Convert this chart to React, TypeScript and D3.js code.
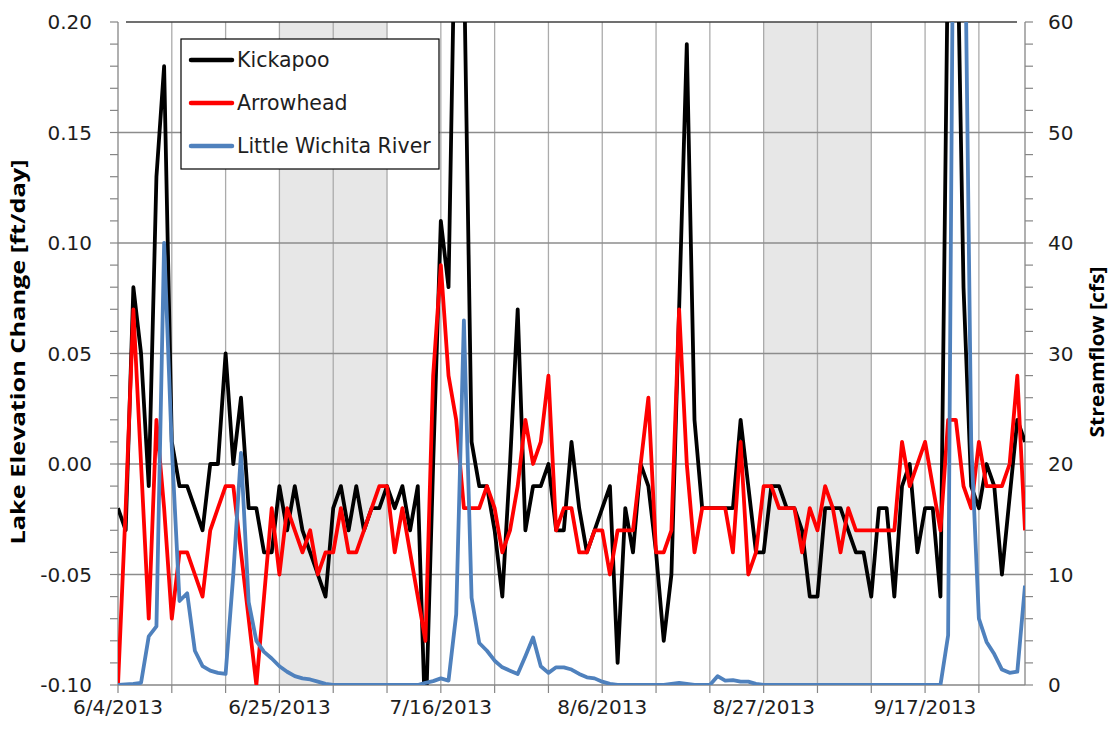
import React from 'react';
import * as d3 from 'd3';

const startDate = new Date(2013, 5, 4);
const endDate = new Date(2013, 8, 30);

const kickapoo = [
  -0.02, -0.03, 0.08, 0.05, -0.01, 0.13, 0.18, 0.01, -0.01, -0.01,
  -0.02, -0.03, 0.00, 0.00, 0.05, 0.00, 0.03, -0.02, -0.02, -0.04,
  -0.04, -0.01, -0.03, -0.01, -0.03, -0.04, -0.05, -0.06, -0.02, -0.01,
  -0.03, -0.01, -0.03, -0.02, -0.02, -0.01, -0.02, -0.01, -0.03, -0.01,
  -0.12, 0.00, 0.11, 0.08, 0.28, 0.23, 0.01, -0.01, -0.01, -0.03,
  -0.06, 0.00, 0.07, -0.03, -0.01, -0.01, 0.00, -0.03, -0.03, 0.01,
  -0.02, -0.04, -0.03, -0.02, -0.01, -0.09, -0.02, -0.04, 0.00, -0.01,
  -0.04, -0.08, -0.05, 0.07, 0.19, 0.02, -0.02, -0.02, -0.02, -0.02,
  -0.02, 0.02, -0.01, -0.04, -0.04, -0.01, -0.01, -0.02, -0.02, -0.03,
  -0.06, -0.06, -0.02, -0.02, -0.02, -0.03, -0.04, -0.04, -0.06, -0.02,
  -0.02, -0.06, -0.01, 0.00, -0.04, -0.02, -0.02, -0.06, 0.24, 0.28,
  0.08, -0.01, -0.02, 0.00, -0.01, -0.05, -0.015, 0.02, 0.01,
];

const arrowhead = [
  -0.10, -0.02, 0.07, 0.00, -0.07, 0.02, -0.02, -0.07, -0.04, -0.04,
  -0.05, -0.06, -0.03, -0.02, -0.01, -0.01, -0.04, -0.07, -0.10, -0.06,
  -0.02, -0.05, -0.02, -0.03, -0.04, -0.03, -0.05, -0.04, -0.04, -0.02,
  -0.04, -0.04, -0.03, -0.02, -0.01, -0.01, -0.04, -0.02, -0.04, -0.06,
  -0.08, 0.04, 0.09, 0.04, 0.02, -0.02, -0.02, -0.02, -0.01, -0.02,
  -0.04, -0.03, -0.01, 0.02, 0.00, 0.01, 0.04, -0.03, -0.02, -0.02,
  -0.04, -0.04, -0.03, -0.03, -0.05, -0.03, -0.03, -0.03, 0.00, 0.03,
  -0.04, -0.04, -0.03, 0.07, 0.00, -0.04, -0.02, -0.02, -0.02, -0.02,
  -0.04, 0.01, -0.05, -0.04, -0.01, -0.01, -0.02, -0.02, -0.02, -0.04,
  -0.02, -0.03, -0.01, -0.02, -0.04, -0.02, -0.03, -0.03, -0.03, -0.03,
  -0.03, -0.03, 0.01, -0.01, 0.00, 0.01, -0.01, -0.03, 0.02, 0.02,
  -0.01, -0.02, 0.01, -0.01, -0.01, -0.01, 0.00, 0.04, -0.03,
];

const streamflow = [
  0, 0.05, 0.1, 0.2, 4.4, 5.3, 40, 21.5, 7.6, 8.3,
  3.1, 1.7, 1.3, 1.1, 1.0, 10, 21, 7.5, 4.0, 3.0,
  2.4, 1.7, 1.2, 0.8, 0.6, 0.5, 0.3, 0.1, 0, 0,
  0, 0, 0, 0, 0, 0, 0, 0, 0, 0,
  0.2, 0.35, 0.6, 0.4, 6.4, 33, 7.9, 3.8, 3.1, 2.2,
  1.6, 1.3, 1.0, 2.6, 4.3, 1.7, 1.1, 1.6, 1.6, 1.4,
  1.0, 0.7, 0.6, 0.3, 0.1, 0, 0, 0, 0, 0,
  0, 0, 0.1, 0.2, 0.1, 0, 0, 0, 0.8, 0.4,
  0.45, 0.3, 0.3, 0.1, 0, 0, 0, 0, 0, 0,
  0, 0, 0, 0, 0, 0, 0, 0, 0, 0,
  0, 0, 0, 0, 0, 0, 0, 0, 4.5, 105,
  80, 22, 6, 3.9, 2.8, 1.4, 1.1, 1.2, 9,
];

const leftTicks = [-0.1, -0.05, 0, 0.05, 0.1, 0.15, 0.2];
const rightTicks = [0, 10, 20, 30, 40, 50, 60];
const shadedPeriods: [Date, Date][] = [
  [new Date(2013, 5, 25), new Date(2013, 6, 9)],
  [new Date(2013, 7, 27), new Date(2013, 8, 10)],
];
const seriesNames = ['Kickapoo', 'Arrowhead', 'Little Wichita River'];
const seriesColors = ['#000000', '#ff0000', '#4f81bd'];
const leftTitle = 'Lake Elevation Change [ft/day]';
const rightTitle = 'Streamflow [cfs]';

const W = 1112;
const H = 730;
const L = 118;
const R = 1025;
const T = 22;
const B = 685;

export default function App() {
  const dates = d3.timeDay.range(startDate, d3.timeDay.offset(endDate, 1));
  const x = d3.scaleTime().domain([startDate, endDate]).range([L, R]);
  const yL = d3.scaleLinear().domain([-0.1, 0.2]).range([B, T]);
  const yR = d3.scaleLinear().domain([0, 60]).range([B, T]);

  const weekly = d3.range(0, dates.length, 7).map((i) => dates[i]);
  const labelDates = d3.range(0, dates.length, 21).map((i) => dates[i]);
  const leftMinor = d3.range(0, 31).map((i) => -0.1 + i * 0.01);
  const rightMinor = d3.range(0, 31).map((i) => i * 2);

  const lineL = d3
    .line<number>()
    .x((_, i) => x(dates[i]))
    .y((d) => yL(d));
  const lineR = d3
    .line<number>()
    .x((_, i) => x(dates[i]))
    .y((d) => yR(d));

  const fmt = d3.timeFormat('%-m/%-d/%Y');
  const tickFont = '"DejaVu Sans", Verdana, sans-serif';
  const titleFont = '"Open Sans", "Noto Sans", sans-serif';

  return (
    <svg
      width={W}
      height={H}
      style={{ position: 'absolute', left: 0, top: 0, background: '#fff' }}
    >
      <defs>
        <clipPath id="plotClip">
          <rect x={L} y={T} width={R - L} height={B - T} />
        </clipPath>
      </defs>
      <rect x={0} y={0} width={W} height={H} fill="#fff" />
      {shadedPeriods.map(([a, b], i) => (
        <rect key={i} x={x(a)} y={T} width={x(b) - x(a)} height={B - T} fill="#e7e7e7" />
      ))}
      {weekly.slice(1).map((d, i) => (
        <line key={i} x1={x(d)} x2={x(d)} y1={T} y2={B} stroke="#ababab" strokeWidth={1.3} />
      ))}
      {leftTicks.slice(1, -1).map((v, i) => (
        <line key={i} x1={L} x2={R} y1={yL(v)} y2={yL(v)} stroke="#8c8c8c" strokeWidth={1.3} />
      ))}
      <line x1={L + 8} x2={R - 8} y1={T} y2={T} stroke="#404040" strokeWidth={1.6} />

      {/* axes */}
      <line x1={L} x2={L} y1={T} y2={B} stroke="#868686" strokeWidth={1.3} />
      <line x1={R} x2={R} y1={T} y2={B} stroke="#868686" strokeWidth={1.3} />
      <line x1={L} x2={R} y1={B} y2={B} stroke="#868686" strokeWidth={1.3} />
      {leftMinor.map((v, i) => (
        <line key={i} x1={L - 8} x2={L} y1={yL(v)} y2={yL(v)} stroke="#868686" strokeWidth={1.2} />
      ))}
      {rightMinor.map((v, i) => (
        <line key={i} x1={R} x2={R + 8} y1={yR(v)} y2={yR(v)} stroke="#868686" strokeWidth={1.2} />
      ))}
      {weekly.map((d, i) => (
        <line key={i} x1={x(d)} x2={x(d)} y1={B} y2={B + 8} stroke="#868686" strokeWidth={1.2} />
      ))}

      {/* series */}
      <g clipPath="url(#plotClip)" fill="none" strokeLinejoin="round" strokeWidth={3.8}>
        <path d={lineL(kickapoo) || ''} stroke={seriesColors[0]} />
        <path d={lineL(arrowhead) || ''} stroke={seriesColors[1]} />
        <path d={lineR(streamflow) || ''} stroke={seriesColors[2]} />
      </g>

      {/* tick labels */}
      <g fontFamily={tickFont} fontSize={20} fill="#1e1e1e">
        {leftTicks.map((v, i) => (
          <text key={i} x={L - 26} y={yL(v)} dy="0.36em" textAnchor="end">
            {v.toFixed(2)}
          </text>
        ))}
        {rightTicks.map((v, i) => (
          <text key={i} x={R + 23} y={yR(v)} dy="0.36em" textAnchor="start">
            {v}
          </text>
        ))}
        {labelDates.map((d, i) => (
          <text key={i} x={x(d)} y={B + 29} textAnchor="middle">
            {fmt(d)}
          </text>
        ))}
      </g>

      {/* axis titles */}
      <text
        transform={`translate(25,352) rotate(-90)`}
        textAnchor="middle"
        fontFamily={titleFont}
        fontWeight="bold"
        fontSize={20}
        textLength={385}
        lengthAdjust="spacingAndGlyphs"
        fill="#000"
      >
        {leftTitle}
      </text>
      <text
        transform={`translate(1104,352) rotate(-90)`}
        textAnchor="middle"
        fontFamily={titleFont}
        fontWeight="bold"
        fontSize={20}
        textLength={171}
        lengthAdjust="spacingAndGlyphs"
        fill="#000"
      >
        {rightTitle}
      </text>

      {/* legend */}
      <rect x={181} y={39} width={258} height={130} fill="#fff" stroke="#000" strokeWidth={1.2} />
      {seriesNames.map((name, i) => {
        const yy = 60 + i * 43;
        return (
          <g key={name}>
            <line x1={191} x2={232} y1={yy} y2={yy} stroke={seriesColors[i]} strokeWidth={4.5} strokeLinecap="round" />
            <text x={237} y={yy} dy="0.36em" fontFamily={tickFont} fontSize={20.5} fill="#1e1e1e">
              {name}
            </text>
          </g>
        );
      })}
    </svg>
  );
}
